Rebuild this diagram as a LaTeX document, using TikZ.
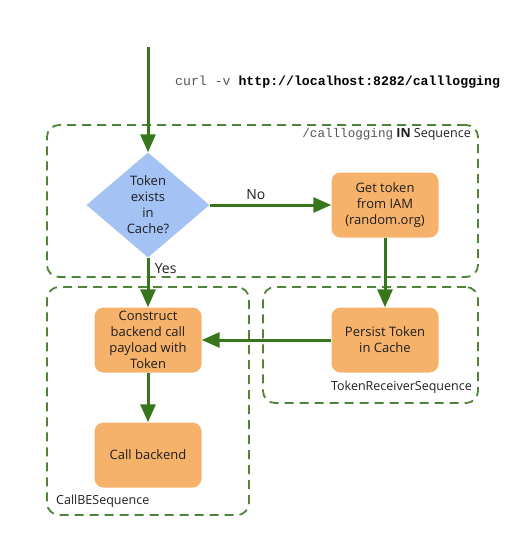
\documentclass[tikz,border=0pt]{standalone}
\usepackage{fontspec}
\setmainfont{Open Sans}
\setmonofont{Liberation Mono}
\usetikzlibrary{shapes.geometric,arrows.meta,fit}

\definecolor{flowgreen}{RGB}{56,118,29}
\definecolor{seqgreen}{RGB}{80,130,55}
\definecolor{taskfill}{RGB}{246,178,107}
\definecolor{testfill}{RGB}{164,194,244}
\definecolor{textdark}{RGB}{30,30,30}
\definecolor{curlgray}{RGB}{85,85,85}

\tikzset{
    task/.style={rectangle, rounded corners=9pt, fill=taskfill, text=textdark,
        minimum width=107pt, minimum height=65pt, align=center,
        font=\fontsize{13}{16}\selectfont},
    test/.style={diamond, fill=testfill, text=textdark, align=center,
        inner sep=-5pt, aspect=1.17, font=\fontsize{13}{16}\selectfont},
    flow/.style={draw=flowgreen, line width=3pt,
        -{Triangle[length=18pt,width=15pt]}},
    seqbox/.style={draw=seqgreen, line width=1.8pt, rounded corners=12pt,
        dash pattern=on 9pt off 6pt, inner sep=0pt},
    seqlabel/.style={text=textdark, inner sep=0pt, font=\fontsize{12.5}{14}\selectfont},
    answer/.style={text=textdark, font=\fontsize{14}{16}\selectfont},
}

\begin{document}
\begin{tikzpicture}[x=1pt, y=-1pt]
    \useasboundingbox (0,0) rectangle (525,546);

    % sequences
    \node[seqbox, fit={(47,125) (478,277)}] (in-seq) {};
    \node[seqbox, fit={(263,287) (478,403)}] (rcv-seq) {};
    \node[seqbox, fit={(47,287) (249,515)}] (be-seq) {};
    \node[seqlabel, anchor=north east] (l-in) at (471,128)
        {{\ttfamily\fontsize{12.6}{14}\selectfont\color{curlgray}/calllogging} \textbf{IN} Sequence};
    \node[seqlabel, anchor=south east] (l-rcv) at (472,394) {TokenReceiverSequence};
    \node[seqlabel, anchor=south west] (l-be) at (56,508) {CallBESequence};

    % request
    \coordinate (start) at (148,47);
    \node[anchor=base west, inner sep=0pt, font=\ttfamily\fontsize{13.2}{15}\selectfont]
        (curl) at (175,85) {{\color{curlgray}curl -v} \textbf{http://localhost:8282/calllogging}};

    % steps
    \node[test, minimum width=123pt, minimum height=105pt] (exists) at (148,205)
        {Token\\exists\\in\\Cache?};
    \node[task] (get) at (385,205) {Get token\\from IAM\\(random.org)};
    \node[task] (persist) at (385,340) {Persist Token\\in Cache};
    \node[task] (build) at (148,340) {Construct\\backend call\\payload with\\Token};
    \node[task] (call) at (148,455) {Call backend};

    \draw[flow] (start) -- (exists);
    \draw[flow] (exists) -- node[answer, above, pos=0.38, yshift=1pt] (no) {No} (get);
    \draw[flow] (get) -- (persist);
    \draw[flow] (exists) -- node[answer, right, pos=0.22, xshift=2pt] (yes) {Yes} (build);
    \draw[flow] (persist) -- (build);
    \draw[flow] (build) -- (call);
\end{tikzpicture}
\end{document}
